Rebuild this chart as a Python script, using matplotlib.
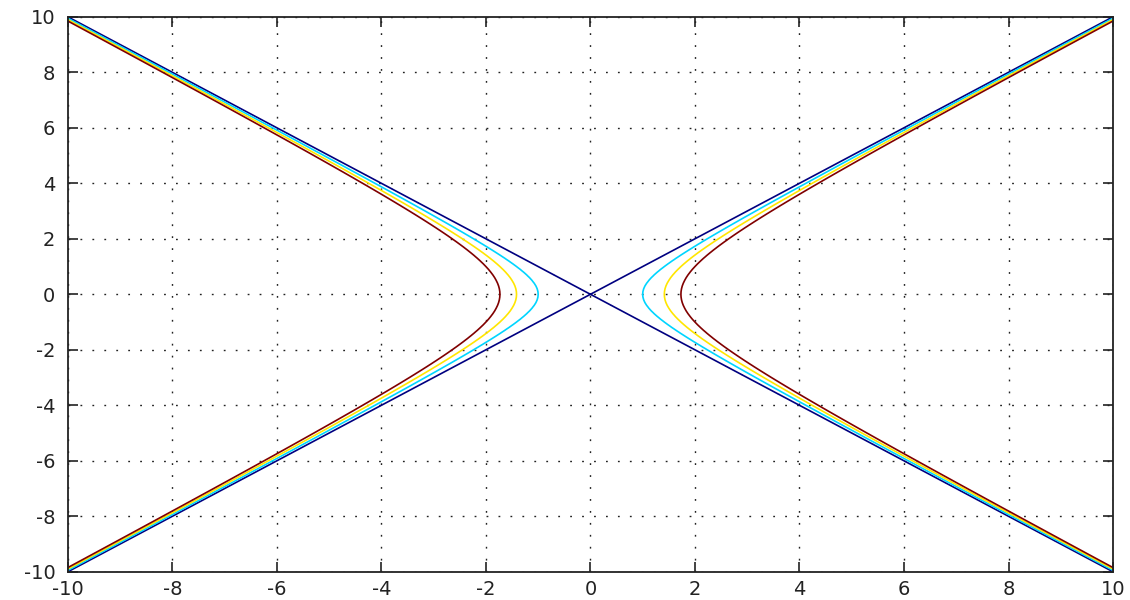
import numpy as np
import matplotlib
matplotlib.use("Agg")
import matplotlib.pyplot as plt

# contour levels of x^2 - y^2
levels = [0, 1, 2, 3]
ticks = [-10, -8, -6, -4, -2, 0, 2, 4, 6, 8, 10]

# grid for the surface
x = np.linspace(-10, 10, 201)
y = np.linspace(-10, 10, 201)
X, Y = np.meshgrid(x, y)
Z = X**2 - Y**2

plt.rcParams["font.family"] = ["DejaVu Sans"]
plt.rcParams["axes.unicode_minus"] = False

fig = plt.figure(figsize=(11.3, 6), dpi=100)
ax = fig.add_axes([0.060, 0.047, 0.925, 0.925])

ax.contour(X, Y, Z, levels=levels, cmap="jet", vmin=0, vmax=3, linewidths=1.2)

ax.set_xlim(-10, 10)
ax.set_ylim(-10, 10)
ax.set_xticks(ticks)
ax.set_yticks(ticks)
ax.grid(True, color="#222222", linestyle=(0, (1.3, 7.3)), linewidth=1.0)
ax.tick_params(direction="in", length=7, labelsize=14, width=1.2,
               top=True, right=True, colors="#222222")
ax.tick_params(axis="x", pad=6)
ax.tick_params(axis="y", pad=9)
for s in ax.spines.values():
    s.set_linewidth(1.3)
    s.set_color("#222222")

fig.savefig("out.png", dpi=100)
